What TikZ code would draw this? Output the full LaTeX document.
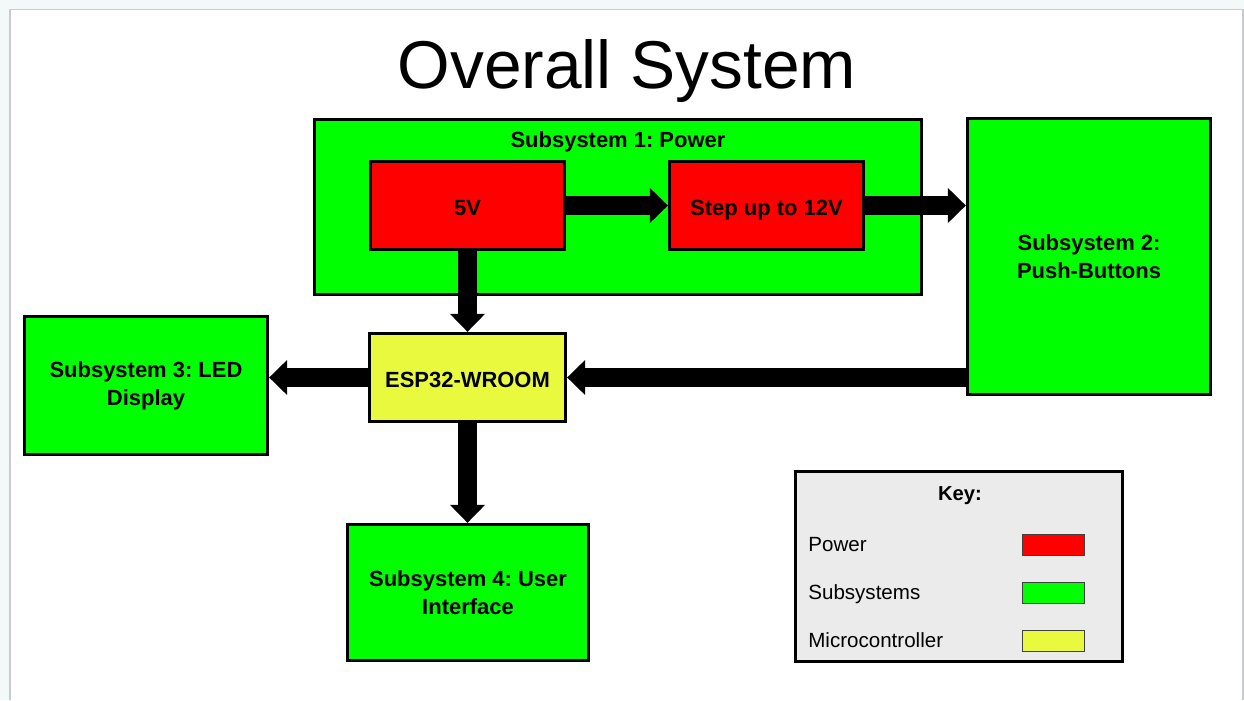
\documentclass[tikz,border=0pt]{standalone}
\usepackage{fontspec}
\setmainfont{Liberation Sans}
\frenchspacing
\usepackage{xcolor}
\usetikzlibrary{arrows.meta, positioning}
\definecolor{subgreen}{RGB}{0,255,0}
\definecolor{pwrred}{RGB}{255,0,0}
\definecolor{mcuyellow}{RGB}{233,250,62}
\definecolor{keygray}{RGB}{235,235,235}
\definecolor{pagebg}{RGB}{243,248,249}
\definecolor{pageedge}{RGB}{200,204,206}
\tikzset{
  % Block diagram styles
  block/.style={rectangle, draw=black, line width=1.6pt, fill=#1, text centered, align=center, inner sep=0pt, font=\bfseries\fontsize{12.5}{15.9}\selectfont},
  block/.default={subgreen},
  oneline/.style={text height=11.2pt, text depth=0pt},
  blocklabel/.style={inner sep=0pt, anchor=base, font=\bfseries\fontsize{12.5}{15.9}\selectfont},
  % Key styles
  swatch/.style={rectangle, draw=black!75, line width=0.8pt, fill=#1, minimum width=1.24cm, minimum height=0.42cm, inner sep=0pt},
  keytext/.style={inner sep=0pt, anchor=base west, font=\fontsize{11.7}{14}\selectfont},
  bigarrow/.style={-{Triangle[width=0.68cm, length=0.36cm]}, line width=0.37cm},
}

\begin{document}
\begin{tikzpicture}[x=0.02cm, y=-0.02cm]
    % Page frame
    \fill[pagebg] (0,0) rectangle (1244,700);
    \fill[white] (10,9.5) rectangle (1243,700);
    \draw[pageedge, line width=0.6pt] (10,700) -- (10,9.5) -- (1243,9.5) -- (1243,700);
    \useasboundingbox (0,0) rectangle (1244,700);
    % Title
    \node[inner sep=0pt, anchor=base, font=\fontsize{38.5}{46}\selectfont] (title) at (627,88) {Overall System};
    % Subsystem 1: power supply with its two stages
    \node[block, minimum width=12.15cm, minimum height=3.51cm] (sub1) at (618,207) {};
    \node[blocklabel] (sub1lbl) at (618,147) {Subsystem 1: Power};
    \node[block=pwrred, oneline, minimum width=3.89cm, minimum height=1.77cm] (v5) at (467.5,205.5) {5V};
    \node[block=pwrred, oneline, minimum width=3.89cm, minimum height=1.77cm] (step) at (766.5,205.5) {Step up to 12V};
    % Other subsystems
    \node[block, minimum width=4.87cm, minimum height=5.53cm] (sub2) at (1089,256.5) {Subsystem 2:\\Push-Buttons};
    \node[block, minimum width=4.87cm, minimum height=2.77cm] (sub3) at (146,385.5) {Subsystem 3: LED\\Display};
    \node[block, minimum width=4.83cm, minimum height=2.73cm] (sub4) at (468,592.5) {Subsystem 4: User\\Interface};
    % Microcontroller
    \node[block=mcuyellow, oneline, minimum width=3.93cm, minimum height=1.77cm] (esp) at (467.5,377.5) {ESP32-WROOM};
    % Connections
    \draw[bigarrow] (v5.east) -- (step.west);
    \draw[bigarrow] (step.east) -- (step -| sub2.west);
    \draw[bigarrow] (v5.south) -- (esp.north);
    \draw[bigarrow] (esp -| sub2.west) -- (esp.east);
    \draw[bigarrow] (esp.west) -- (esp -| sub3.east);
    \draw[bigarrow] (esp.south) -- (esp |- sub4.north);
    % Key
    \node[rectangle, draw=black, line width=1.6pt, fill=keygray, minimum width=6.55cm, minimum height=3.81cm] (key) at (959,566.5) {};
    \node[blocklabel, font=\bfseries\fontsize{11.5}{14}\selectfont] (keytitle) at (960,500) {Key:};
    \foreach \y/\c/\t [count=\i] in {545/pwrred/Power, 593/subgreen/Subsystems, 641/mcuyellow/Microcontroller} {
      \node[keytext] (keylbl\i) at (808,\y+6) {\t};
      \node[swatch=\c] (keysw\i) at (1053.5,\y) {};
    }
\end{tikzpicture}
\end{document}
